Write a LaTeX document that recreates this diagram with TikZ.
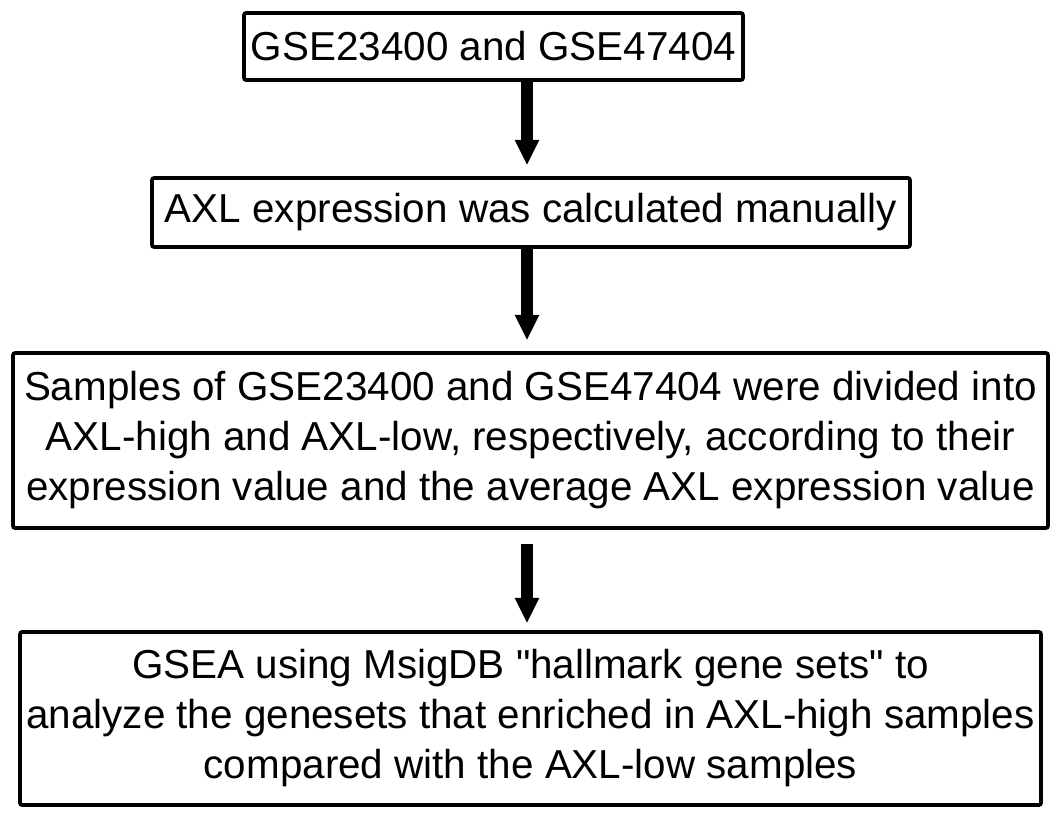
\documentclass[tikz,border=0pt]{standalone}
\usepackage{fontspec}
\setmainfont{Liberation Sans}[Ligatures=TeXOff]
\usetikzlibrary{arrows.meta}
\begin{document}
\begin{tikzpicture}[x=0.75pt,y=-0.75pt,
  stepbox/.style={draw=black, line width=2.7pt, rounded corners=1.5pt, fill=white,
    align=center, inner sep=0pt,
    font=\fontsize{30.3pt}{37.5pt}\selectfont},
  flowarrow/.style={line width=9.5pt, -{Triangle[width=17pt,length=19pt]}}]
\useasboundingbox (0,0) rectangle (1064,822);
\node[stepbox, minimum width=374.25pt, minimum height=50.25pt] (b1) at (493.5,46.5)
  {GSE23400 and GSE47404};
\node[stepbox, minimum width=568.5pt, minimum height=51.75pt] (b2) at (531,212.5)
  {AXL expression was calculated manually};
\node[stepbox, minimum width=776.25pt, minimum height=131.25pt] (b3) at (530.5,440.5)
  {Samples of GSE23400 and GSE47404 were divided into\\
   AXL-high and AXL-low, respectively, according to their\\
   expression value and the average AXL expression value};
\node[stepbox, minimum width=765.75pt, minimum height=129.75pt] (b4) at (530.5,718.5)
  {GSEA using MsigDB "hallmark gene sets" to\\
   analyze the genesets that enriched in AXL-high samples\\
   compared with the AXL-low samples};
\coordinate (ax) at (527,0);
\draw[flowarrow, shorten <=-1pt, shorten >=8.25pt] (b1.south -| ax) -- (b2.north -| ax);
\draw[flowarrow, shorten >=8.25pt] (b2.south -| ax) -- (b3.north -| ax);
\draw[flowarrow, shorten <=10.5pt, shorten >=5.25pt] (b3.south -| ax) -- (b4.north -| ax);
\end{tikzpicture}
\end{document}
